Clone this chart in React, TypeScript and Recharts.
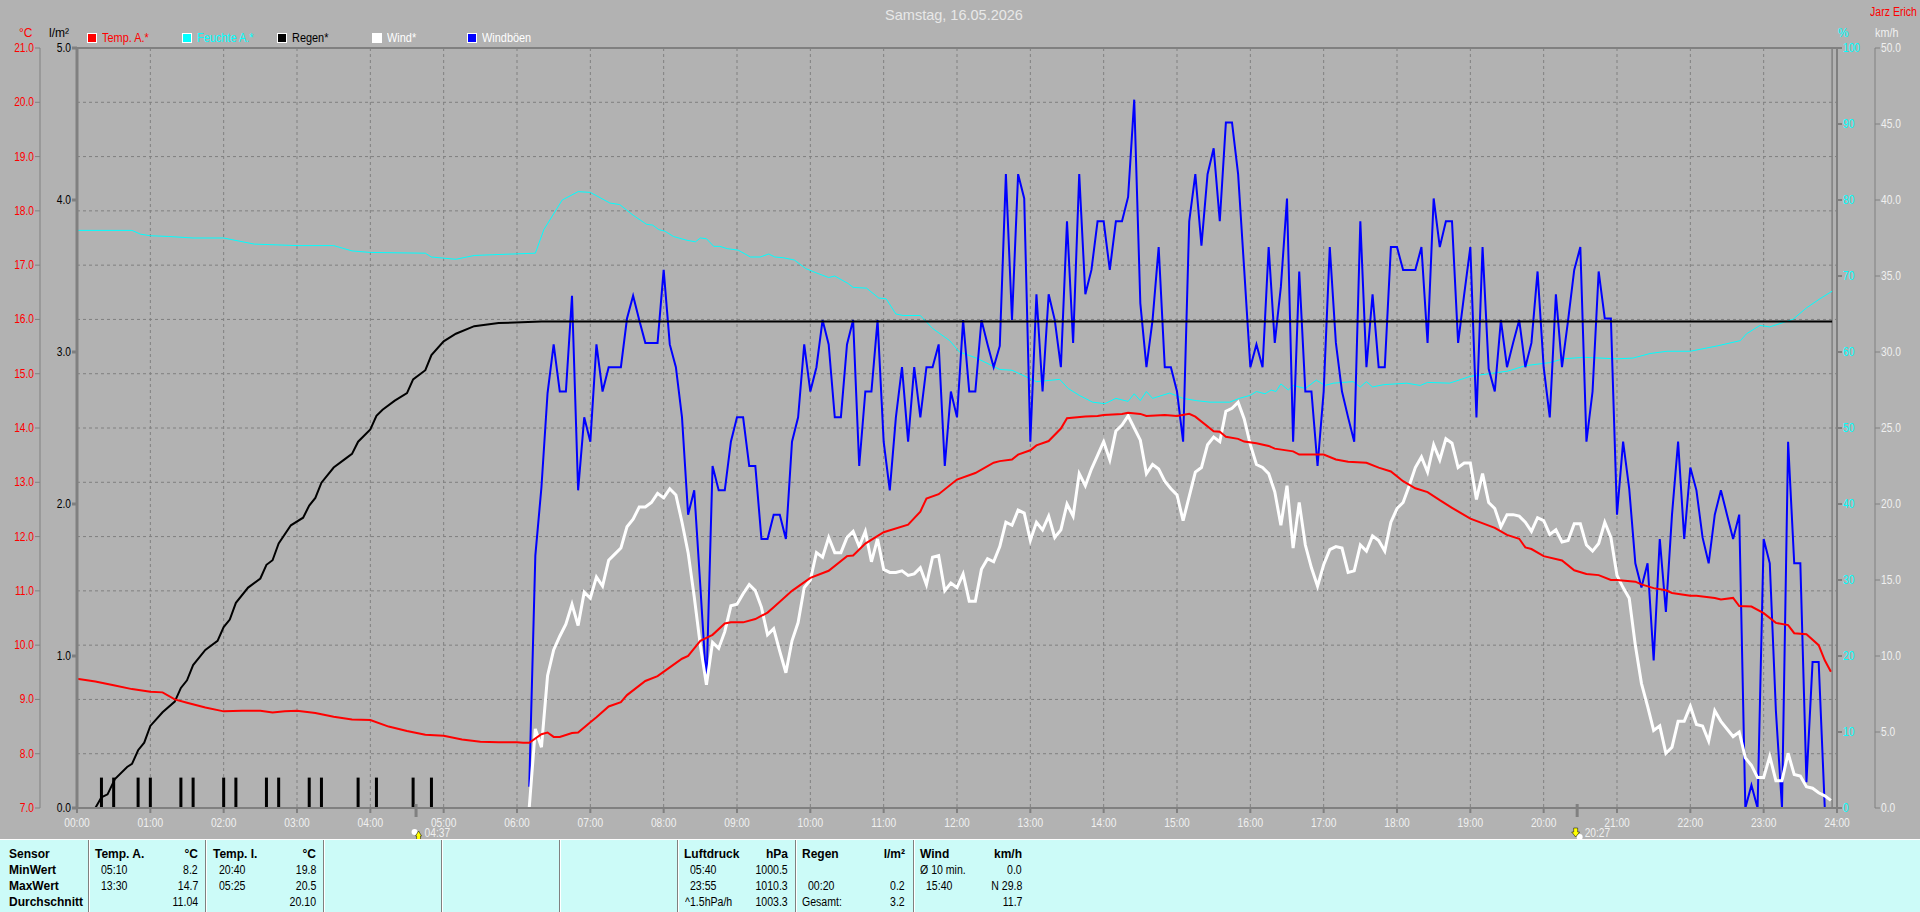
import React from "react";
import {
  Bar,
  CartesianGrid,
  ComposedChart,
  Line,
  ReferenceLine,
  XAxis,
  YAxis,
} from "recharts";

const FONT = '"Liberation Sans", sans-serif';
const GREY = "#808080";

const hourTicks = Array.from({ length: 25 }, (_, h) => h * 60);
const tempTicks = [7, 8, 9, 10, 11, 12, 13, 14, 15, 16, 17, 18, 19, 20, 21];
const rainTicks = [0, 1, 2, 3, 4, 5];
const humTicks = [0, 10, 20, 30, 40, 50, 60, 70, 80, 90, 100];
const windTicks = [0, 5, 10, 15, 20, 25, 30, 35, 40, 45, 50];

const legendItems = [
  { label: "Temp. A.*", marker: "#ff0000", text: "#ff0000" },
  { label: "Feuchte A.*", marker: "#00ffff", text: "#00ffff" },
  { label: "Regen*", marker: "#000000", text: "#000000" },
  { label: "Wind*", marker: "#ffffff", text: "#ffffff" },
  { label: "Windböen", marker: "#0000ff", text: "#ffffff" },
];

// minutes since midnight / value pairs
const tempMinutes = [
  0, 15, 30, 45, 60, 70, 80, 90, 105, 120, 135, 150, 160, 170, 180, 195, 210, 225, 240, 255, 270,
  285, 300, 315, 330, 345, 360, 365, 370, 380, 385, 390, 395, 405, 410, 420, 425, 435, 445, 450,
  465, 475, 485, 495, 500, 505, 510, 520, 530, 535, 545, 555, 565, 570, 585, 600, 615, 630, 635,
  645, 660, 680, 690, 695, 705, 720, 735, 750, 755, 765, 770, 780, 785, 795, 805, 810, 825, 835,
  840, 855, 860, 870, 875, 890, 900, 910, 915, 930, 935, 940, 950, 955, 965, 975, 980, 995, 1000,
  1015, 1020, 1030, 1040, 1055, 1065, 1075, 1085, 1095, 1105, 1115, 1125, 1140, 1160, 1170, 1180,
  1185, 1190, 1200, 1215, 1225, 1235, 1245, 1255, 1260, 1275, 1280, 1290, 1300, 1305, 1320, 1325,
  1340, 1345, 1355, 1360, 1370, 1380, 1390, 1400, 1405, 1415, 1425, 1430, 1435,
];
const tempValues = [
  9.38, 9.33, 9.26, 9.19, 9.14, 9.13, 9.0, 8.94, 8.85, 8.78, 8.79, 8.79, 8.76, 8.78, 8.79, 8.75,
  8.68, 8.63, 8.62, 8.5, 8.42, 8.35, 8.33, 8.26, 8.22, 8.21, 8.21, 8.2, 8.2, 8.36, 8.39, 8.31, 8.31,
  8.38, 8.39, 8.58, 8.67, 8.87, 8.95, 9.08, 9.34, 9.43, 9.59, 9.75, 9.8, 9.94, 10.08, 10.19, 10.4,
  10.42, 10.42, 10.48, 10.6, 10.7, 11, 11.24, 11.37, 11.64, 11.65, 11.87, 12.08, 12.22, 12.46, 12.7,
  12.78, 13.05, 13.17, 13.36, 13.39, 13.42, 13.51, 13.59, 13.68, 13.76, 13.99, 14.18, 14.21, 14.22,
  14.24, 14.26, 14.28, 14.26, 14.22, 14.24, 14.22, 14.26, 14.21, 13.94, 13.93, 13.84, 13.8, 13.75,
  13.72, 13.67, 13.62, 13.57, 13.51, 13.51, 13.51, 13.42, 13.38, 13.36, 13.27, 13.2, 13.02, 12.89,
  12.82, 12.67, 12.53, 12.33, 12.16, 12.03, 11.96, 11.8, 11.77, 11.64, 11.56, 11.38, 11.31, 11.29,
  11.2, 11.2, 11.17, 11.12, 11.05, 11.01, 10.96, 10.91, 10.91, 10.87, 10.84, 10.87, 10.72, 10.71,
  10.59, 10.41, 10.37, 10.22, 10.2, 10.0, 9.72, 9.51, 9.43,
];

const humMinutes = [
  0, 45, 52, 60, 75, 95, 120, 145, 180, 210, 225, 240, 285, 290, 310, 325, 340, 375, 382, 397, 410,
  420, 436, 444, 455, 466, 471, 476, 481, 488, 499, 506, 510, 515, 521, 526, 532, 541, 551, 559,
  566, 571, 578, 587, 596, 605, 615, 620, 631, 635, 646, 656, 662, 670, 676, 690, 700, 714, 722,
  736, 755, 765, 777, 785, 804, 811, 820, 831, 841, 850, 860, 865, 870, 875, 880, 894, 905, 916,
  927, 943, 951, 960, 965, 972, 977, 981, 985, 991, 995, 1005, 1014, 1021, 1028, 1044, 1050, 1055,
  1060, 1069, 1088, 1099, 1105, 1123, 1140, 1171, 1185, 1205, 1216, 1233, 1260, 1273, 1287, 1301,
  1320, 1342, 1361, 1366, 1377, 1385, 1404, 1415, 1426, 1436,
];
const humValues = [
  76, 76, 75.5, 75.3, 75.2, 75, 75, 74.2, 74, 74, 73.3, 73.1, 73, 72.5, 72.2, 72.7, 72.8, 73, 76.1,
  80, 81.1, 81, 79.6, 79.4, 78, 76.8, 76.7, 76.1, 75.9, 75.2, 74.7, 74.5, 75, 74.9, 73.9, 73.9, 73.6,
  73.4, 72.5, 72.5, 72.9, 72.5, 72.4, 72.1, 71, 70.4, 69.8, 70, 69, 68.5, 68.4, 67.1, 67, 65, 64.8,
  64.8, 63.1, 61.5, 60, 59.2, 57.7, 57.6, 56.7, 56.1, 56.4, 55.2, 54.3, 53.4, 53.2, 53.9, 53.5, 54.5,
  53.6, 54.8, 53.9, 54.6, 53.9, 53.6, 53.4, 53.4, 53.9, 54.3, 54.8, 54.5, 55, 54.8, 55.8, 55, 55.6,
  55.2, 56.3, 55.6, 55.9, 56.1, 55.4, 56.1, 55.4, 55.7, 55.9, 55.6, 56, 55.9, 56.8, 57.5, 58.2, 58.6,
  59.1, 59.3, 59.1, 59.2, 59.8, 60.1, 60.1, 60.8, 61.5, 62.4, 63.5, 63.3, 64.3, 65.8, 67, 68,
];

const rainSumMinutes = [
  0, 15, 20, 25, 31, 41, 45, 50, 55, 60, 70, 80, 85, 90, 95, 105, 115, 120, 125, 130, 140, 150, 155,
  160, 165, 175, 185, 190, 195, 200, 210, 220, 225, 230, 240, 245, 250, 260, 270, 275, 285, 290,
  300, 310, 325, 345, 380, 1436,
];
const rainSumValues = [
  0, 0, 0.07, 0.09, 0.19, 0.27, 0.29, 0.38, 0.43, 0.54, 0.63, 0.7, 0.79, 0.84, 0.94, 1.04, 1.1, 1.19,
  1.24, 1.35, 1.45, 1.51, 1.6, 1.63, 1.74, 1.86, 1.91, 1.99, 2.04, 2.14, 2.24, 2.3, 2.33, 2.41, 2.49,
  2.58, 2.62, 2.68, 2.73, 2.82, 2.88, 2.98, 3.07, 3.12, 3.17, 3.19, 3.2, 3.2,
];

const rainBarMinutes = [20, 30, 50, 60, 85, 95, 120, 130, 155, 165, 190, 200, 230, 245, 275, 290];
const rainBarValues = [0.2, 0.2, 0.2, 0.2, 0.2, 0.2, 0.2, 0.2, 0.2, 0.2, 0.2, 0.2, 0.2, 0.2, 0.2, 0.2];

// wind and gusts are 5 minute readings, 06:10 to 23:55
const WIND_START = 370;
const gustValues = [
  1.4, 16.6, 21.1, 27.3, 30.5, 27.4, 27.4, 33.7, 20.9, 25.7,
  24.1, 30.5, 27.4, 29, 29, 29, 32.2, 33.7, 32.1, 30.6, 30.6, 30.6,
  35.4, 30.5, 29, 25.7, 19.3, 20.9, 14.6, 8.1, 22.5, 20.9, 20.9, 24.1,
  25.7, 25.7, 22.5, 22.5, 17.7, 17.7, 19.3, 19.3, 17.7, 24.1, 25.7, 30.5,
  27.4, 29, 32.1, 30.5, 25.7, 25.7, 30.5, 32.1, 22.5, 27.4, 27.4, 32.1,
  24.1, 20.9, 25.7, 29, 24.1, 29, 25.7, 29, 29, 30.5, 22.5, 27.4,
  25.7, 32.1, 27.4, 27.4, 32.1, 30.5, 29, 30.4, 41.7, 32.1, 41.7, 40.1,
  24.1, 33.8, 27.4, 33.8, 32.1, 29, 38.6, 30.6, 41.7, 33.8, 35.4, 38.6,
  38.6, 35.4, 38.6, 38.6, 40.2, 46.6, 33.2, 29, 32.1, 36.9, 29, 29,
  27.4, 24.1, 38.6, 41.7, 37, 41.7, 43.4, 38.6, 45.1, 45.1, 41.7, 35.4,
  29, 30.5, 29, 36.9, 30.6, 34.3, 40.1, 24.1, 35.3, 27.4, 27.4, 22.5,
  27.4, 36.9, 30.6, 27.4, 25.7, 24.1, 38.6, 29, 33.8, 29, 29, 36.9,
  36.9, 35.4, 35.4, 35.4, 36.9, 30.6, 40.1, 36.9, 38.6, 38.6, 30.6, 33.8,
  36.9, 25.7, 36.9, 28.9, 27.4, 32.1, 29, 30.6, 32.1, 29, 30.6, 35.3,
  29, 25.7, 33.8, 29, 32.1, 35.4, 36.9, 24.1, 27.4, 35.3, 32.2, 32.2,
  19.3, 24.1, 21, 16.1, 14.5, 16.1, 9.7, 17.7, 12.9, 19.3, 24.1, 17.7,
  22.4, 20.9, 17.8, 16.1, 19.3, 20.9, 19.3, 17.7, 19.3, 0, 1.5, 0,
  17.7, 16.1, 6.4, 0, 24.1, 16.1, 16.1, 1.7, 9.6, 9.6, 0, 0,
];
const windValues = [
  0, 5.2, 4, 8.7, 10.4, 11.3, 12.1, 13.4, 12, 14.2,
  13.8, 15.2, 14.6, 16.3, 16.7, 17.1, 18.5, 19, 19.8, 19.8, 20.1, 20.7,
  20.4, 21, 20.6, 18.8, 16.8, 13.9, 10.7, 8.1, 10.9, 10.5, 11.6, 13.3,
  13.4, 14.1, 14.7, 14.3, 13.2, 11.4, 11.8, 10.3, 8.9, 11, 12.2, 14.5,
  15, 16.8, 16.5, 17.8, 16.8, 16.8, 17.8, 18.2, 17.2, 18.2, 16.2, 17.7,
  15.7, 15.5, 15.5, 15.6, 15.3, 15.4, 15.8, 14.7, 16.5, 16.6, 14.3, 14.8,
  14.5, 15.4, 13.6, 13.6, 15.7, 16.4, 16.2, 17.2, 18.8, 18.6, 19.6, 19.4,
  17.6, 18.8, 18.3, 19.2, 17.8, 18.3, 20, 19.2, 22, 21.2, 22.3, 23.2,
  24.1, 22.9, 24.8, 25.2, 25.8, 25, 24.2, 22, 22.6, 22.3, 21.5, 21,
  20.6, 18.9, 20.5, 22.1, 22.4, 23.9, 24.4, 24.1, 26.1, 26.3, 26.7, 25.6,
  23.9, 22.6, 22.4, 22, 20.8, 18.6, 21.2, 17.1, 20.1, 17.3, 15.8, 14.6,
  16, 17, 17.2, 17.1, 15.5, 15.6, 17.3, 16.9, 17.9, 17.6, 16.9, 18.8,
  19.7, 20.1, 21.2, 22.4, 23.1, 22.1, 23.9, 22.9, 24.3, 24, 22.4, 22.7,
  22.7, 20.3, 22, 20.1, 19.7, 18.5, 19.3, 19.3, 19.2, 18.8, 18.2, 19.1,
  18.9, 18, 18.3, 17.5, 17.6, 18.7, 18.7, 17.3, 16.9, 17.4, 18.8, 17.8,
  15.3, 14.5, 13.8, 10.7, 8.2, 6.7, 5.1, 5.4, 3.6, 4, 5.7, 5.7,
  6.7, 5.5, 5.4, 4.4, 6.4, 5.7, 5.2, 4.7, 5, 3.3, 2.8, 2,
  2, 3.4, 1.8, 1.8, 3.6, 2.2, 2.1, 1.4, 1.3, 1, 0.8, 0.5,
];
const windMinutes = windValues.map((_, i) => WIND_START + i * 5);

const sunEvents = [
  { minute: 277, label: "04:37" },
  { minute: 1227, label: "20:27" },
];
const cursorMinute = 1436;

const panelColumns = [
  {
    x: 95, unitRight: 198, title: "Temp. A.", unit: "°C",
    rows: [["05:10", "8.2"], ["13:30", "14.7"], ["", "11.04"]],
  },
  {
    x: 213, unitRight: 316, title: "Temp. I.", unit: "°C",
    rows: [["20:40", "19.8"], ["05:25", "20.5"], ["", "20.10"]],
  },
  {
    x: 684, unitRight: 788, title: "Luftdruck", unit: "hPa",
    rows: [["05:40", "1000.5"], ["23:55", "1010.3"], ["^1.5hPa/h", "1003.3"]],
  },
  {
    x: 802, unitRight: 905, title: "Regen", unit: "l/m²",
    rows: [["", ""], ["00:20", "0.2"], ["Gesamt:", "3.2"]],
  },
  {
    x: 920, unitRight: 1022, title: "Wind", unit: "km/h",
    rows: [["Ø 10 min.", "0.0"], ["15:40", "N 29.8"], ["", "11.7"]],
  },
];
const panelRowLabels = ["MinWert", "MaxWert", "Durchschnitt"];
const panelSeparators = [88, 205, 323, 441, 559, 677, 795, 913];
const panelRowTops = [847, 863, 879, 895];

function buildRows() {
  const byMinute = new Map<number, any>();
  const add = (key: string, minutes: number[], values: number[]) => {
    minutes.forEach((minute, i) => {
      const row = byMinute.get(minute) ?? { minute };
      row[key] = values[i];
      byMinute.set(minute, row);
    });
  };
  add("temp", tempMinutes, tempValues);
  add("hum", humMinutes, humValues);
  add("rainSum", rainSumMinutes, rainSumValues);
  add("rainBar", rainBarMinutes, rainBarValues);
  add("gust", windMinutes, gustValues);
  add("wind", windMinutes, windValues);
  return [...byMinute.values()].sort((a, b) => a.minute - b.minute);
}
const chartRows = buildRows();

const hhmm = (m: number) =>
  `${String(Math.floor(m / 60)).padStart(2, "0")}:00`;
const oneDecimal = (v: number) => v.toFixed(1);

// the original uses a narrow bitmap font, so squeeze the glyphs a bit
function AxisTick({ x, y, payload, textAnchor, color, format, dy = 4 }: any) {
  return (
    <text
      transform={`translate(${x} ${y}) scale(0.85 1)`}
      textAnchor={textAnchor}
      dy={dy}
      fill={color}
      fontFamily={FONT}
      fontSize={12}
    >
      {format ? format(payload.value) : payload.value}
    </text>
  );
}

function RainBar({ x, y, width, height }: any) {
  return <rect x={x + width / 2 - 1.5} y={y} width={3} height={height} fill="#000" />;
}

function SunMark({ x1, y1, y2, label, arrowFirst }: any) {
  const bottom = Math.max(y1, y2);
  return (
    <g>
      <rect x={x1 - 1} y={bottom - 4} width={3} height={13} fill={GREY} />
      <circle cx={arrowFirst ? x1 + 3 : x1 - 1} cy={bottom + (arrowFirst ? 29 : 24)} r={3} fill="#fff" />
      <path
        d={
          arrowFirst
            ? `M${x1 - 3} ${bottom + 20} h4 v4 h2 l-4 5 l-4 -5 h2 z`
            : `M${x1 + 3} ${bottom + 32} h-2 v-4 h-1 l3 -5 l3 5 h-1 v4 z`
        }
        fill="#ffff00"
        stroke="#000"
        strokeWidth={0.5}
      />
      <text
        transform={`translate(${x1 + (arrowFirst ? 8 : 9)} ${bottom + 29}) scale(0.85 1)`}
        fill="#f0f0f0"
        fontFamily={FONT}
        fontSize={12}
      >
        {label}
      </text>
    </g>
  );
}

function Legend() {
  return (
    <>
      {legendItems.map((item, i) => (
        <div key={item.label} style={{ position: "absolute", left: 87 + i * 95, top: 32 }}>
          <div
            style={{
              position: "absolute",
              left: 0,
              top: 1,
              width: 8,
              height: 8,
              background: item.marker,
              border: "1px solid #fff",
            }}
          />
          <span
            style={{
              position: "absolute",
              left: 15,
              top: -1,
              color: item.text,
              fontSize: 12,
              whiteSpace: "nowrap",
              transform: "scaleX(0.91)",
              transformOrigin: "left",
            }}
          >
            {item.label}
          </span>
        </div>
      ))}
    </>
  );
}

function Label({ x, y, color, children, squeeze = 1, center }: any) {
  return (
    <span
      style={{
        position: "absolute",
        left: x,
        top: y,
        color,
        fontSize: 12,
        lineHeight: "14px",
        whiteSpace: "nowrap",
        transform: center ? "translateX(-50%)" : `scaleX(${squeeze})`,
        transformOrigin: "left",
      }}
    >
      {children}
    </span>
  );
}

function PanelText({ left, right, top, bold, children }: any) {
  return (
    <span
      style={{
        position: "absolute",
        top,
        left,
        right: right === undefined ? undefined : 1920 - right,
        fontWeight: bold ? 700 : 400,
        fontSize: 12,
        lineHeight: "14px",
        color: "#000",
        whiteSpace: "nowrap",
        transform: bold ? undefined : "scaleX(0.88)",
        transformOrigin: right === undefined ? "left" : "right",
      }}
    >
      {children}
    </span>
  );
}

function StatsPanel() {
  return (
    <>
      <div style={{ position: "absolute", left: 0, top: 839, width: 1920, height: 73, background: "#ccfbf8", borderTop: "1px solid #fff", boxSizing: "border-box" }} />
      {panelSeparators.map((x) => (
        <div key={x} style={{ position: "absolute", left: x, top: 840, width: 1, height: 72, background: GREY, borderRight: "1px solid #fff" }} />
      ))}
      <PanelText left={9} top={panelRowTops[0]} bold>Sensor</PanelText>
      {panelRowLabels.map((label, i) => (
        <PanelText key={label} left={9} top={panelRowTops[i + 1]} bold>{label}</PanelText>
      ))}
      {panelColumns.map((col) => (
        <React.Fragment key={col.title}>
          <PanelText left={col.x} top={panelRowTops[0]} bold>{col.title}</PanelText>
          <PanelText right={col.unitRight} top={panelRowTops[0]} bold>{col.unit}</PanelText>
          {col.rows.map((row, i) => (
            <React.Fragment key={i}>
              <PanelText
                left={col.x + (row[0].includes(":") && row[0].length === 5 ? 6 : row[0].startsWith("^") ? 1 : 0)}
                top={panelRowTops[i + 1]}
              >
                {row[0]}
              </PanelText>
              <PanelText right={col.unitRight} top={panelRowTops[i + 1]}>{row[1]}</PanelText>
            </React.Fragment>
          ))}
        </React.Fragment>
      ))}
    </>
  );
}

export default function App() {
  return (
    <div style={{ position: "fixed", left: 0, top: 0, width: 1920, height: 912, background: "#b2b2b2", fontFamily: FONT, overflow: "hidden" }}>
      <ComposedChart
        width={1920}
        height={912}
        data={chartRows}
        margin={{ top: 48, right: 0, bottom: 74, left: 0 }}
        style={{ position: "absolute", left: 0, top: 0 }}
      >
        <CartesianGrid xAxisId="time" yAxisId="temp" stroke={GREY} strokeDasharray="3 3" />
        <XAxis
          xAxisId="time"
          dataKey="minute"
          type="number"
          domain={[0, 1440]}
          ticks={hourTicks}
          interval={0}
          height={30}
          stroke={GREY}
          strokeWidth={2}
          tickSize={5}
          tick={<AxisTick color="#f0f0f0" format={hhmm} dy={12} />}
        />
        <YAxis
          yAxisId="rain"
          orientation="left"
          width={37}
          domain={[0, 5]}
          ticks={rainTicks}
          interval={0}
          stroke={GREY}
          strokeWidth={3}
          tickSize={5}
          tickMargin={1}
          tick={<AxisTick color="#000" format={oneDecimal} />}
        />
        <YAxis
          yAxisId="temp"
          orientation="left"
          width={40}
          domain={[7, 21]}
          ticks={tempTicks}
          interval={0}
          stroke={GREY}
          tickSize={5}
          tickMargin={1}
          tick={<AxisTick color="#ff0000" format={oneDecimal} />}
        />
        <YAxis
          yAxisId="hum"
          orientation="right"
          width={38}
          domain={[0, 100]}
          ticks={humTicks}
          interval={0}
          stroke={GREY}
          strokeWidth={2}
          tickSize={5}
          tickMargin={1}
          tick={<AxisTick color="#00ffff" />}
        />
        <YAxis
          yAxisId="wind"
          orientation="right"
          width={45}
          domain={[0, 50]}
          ticks={windTicks}
          interval={0}
          stroke={GREY}
          tickSize={5}
          tickMargin={1}
          tick={<AxisTick color="#f0f0f0" format={oneDecimal} />}
        />
        <ReferenceLine xAxisId="time" yAxisId="temp" y={21} stroke={GREY} strokeWidth={2} />
        <ReferenceLine xAxisId="time" yAxisId="temp" x={cursorMinute} stroke={GREY} strokeWidth={1.5} />
        <ReferenceLine
          xAxisId="time"
          yAxisId="rain"
          segment={[{ x: 0, y: 0 }, { x: WIND_START, y: 0 }]}
          stroke="#fff"
          strokeDasharray="2 2"
        />
        <ReferenceLine
          xAxisId="time"
          yAxisId="rain"
          segment={[{ x: WIND_START, y: 0 }, { x: 1440, y: 0 }]}
          stroke="#000"
          strokeDasharray="1 4"
        />
        <Line xAxisId="time" yAxisId="hum" dataKey="hum" name="Feuchte A.*" stroke="#00ffff" strokeWidth={1} dot={false} connectNulls isAnimationActive={false} />
        <Line xAxisId="time" yAxisId="wind" dataKey="gust" name="Windböen" stroke="#0000ff" strokeWidth={2} dot={false} connectNulls isAnimationActive={false} />
        <Line xAxisId="time" yAxisId="wind" dataKey="wind" name="Wind*" stroke="#ffffff" strokeWidth={3} dot={false} connectNulls isAnimationActive={false} />
        <Bar xAxisId="time" yAxisId="rain" dataKey="rainBar" name="Regen" shape={<RainBar />} isAnimationActive={false} />
        <Line xAxisId="time" yAxisId="rain" dataKey="rainSum" name="Regen*" stroke="#000" strokeWidth={2} dot={false} connectNulls isAnimationActive={false} />
        <Line xAxisId="time" yAxisId="temp" dataKey="temp" name="Temp. A.*" stroke="#ff0000" strokeWidth={2} dot={false} connectNulls isAnimationActive={false} />
        {sunEvents.map((ev, i) => (
          <ReferenceLine
            key={ev.label}
            xAxisId="time"
            yAxisId="temp"
            x={ev.minute}
            stroke="none"
            shape={(props: any) => <SunMark {...props} label={ev.label} arrowFirst={i === 1} />}
          />
        ))}
      </ComposedChart>

      <Label x={954} y={8} color="#e8e8e8" center><span style={{ fontSize: 14.5 }}>Samstag, 16.05.2026</span></Label>
      <Label x={1870} y={5} color="#ff0000" squeeze={0.88}>Jarz Erich</Label>
      <Label x={19} y={26} color="#ff0000">°C</Label>
      <Label x={49} y={26} color="#000">l/m²</Label>
      <Label x={1838} y={26} color="#00ffff">%</Label>
      <Label x={1875} y={26} color="#f0f0f0" squeeze={0.9}>km/h</Label>
      <Legend />
      <StatsPanel />
    </div>
  );
}
